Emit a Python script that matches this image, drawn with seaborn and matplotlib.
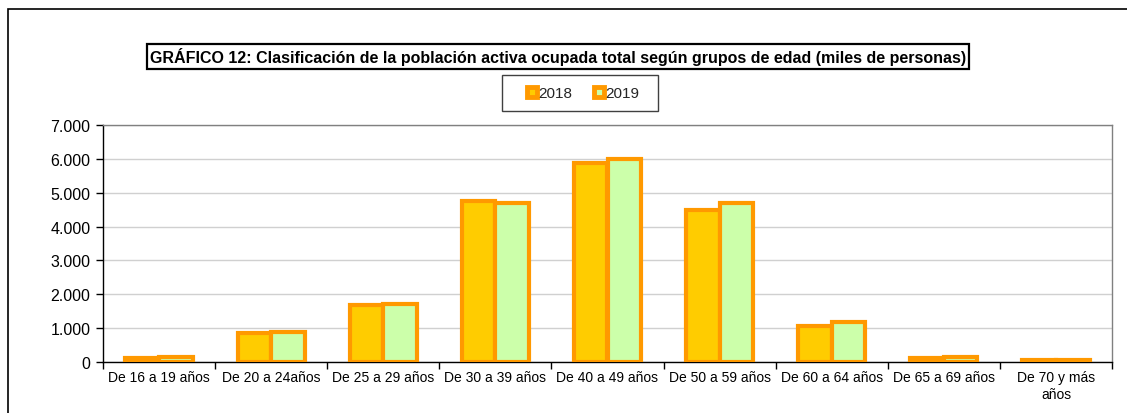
import matplotlib
matplotlib.use("Agg")
import matplotlib.pyplot as plt
import matplotlib.patches as mpatches
from matplotlib.lines import Line2D
from matplotlib.ticker import FuncFormatter, FixedLocator
import seaborn as sns
import pandas as pd

categorias = ["De 16 a 19 años", "De 20 a 24años", "De 25 a 29 años", "De 30 a 39 años",
              "De 40 a 49 años", "De 50 a 59 años", "De 60 a 64 años", "De 65 a 69 años",
              "De 70 y más\naños"]
valores_2018 = [130, 850, 1670, 4760, 5880, 4500, 1070, 120, 50]
valores_2019 = [140, 880, 1700, 4700, 6000, 4700, 1170, 150, 50]
series = ["2018", "2019"]
titulo = "GRÁFICO 12: Clasificación de la población activa ocupada total según grupos de edad (miles de personas)"

colores = ["#FFCC00", "#CCFFAA"]
borde = "#FF9900"

df = pd.DataFrame({
    "grupo": categorias * 2,
    "valor": valores_2018 + valores_2019,
    "año": [series[0]] * len(categorias) + [series[1]] * len(categorias),
})

sns.set_theme(style="white")
plt.rcParams["font.family"] = ["Liberation Sans", "DejaVu Sans"]

W, H = 1127, 414
fig = plt.figure(figsize=(W / 100, H / 100), dpi=100)
ax = fig.add_axes([103 / W, 1 - 363 / H, (1112 - 103) / W, (363 - 126) / H])

sns.barplot(data=df, x="grupo", y="valor", hue="año", palette=colores, saturation=1,
            edgecolor=borde, linewidth=3, width=0.6, ax=ax, legend=False, zorder=3)

ax.set_ylim(0, 7000)
ax.set_xlim(-0.5, len(categorias) - 0.5)
ax.set_yticks(range(0, 7001, 1000))
ax.yaxis.set_major_formatter(FuncFormatter(lambda v, p: f"{int(v):,}".replace(",", ".")))
ax.grid(axis="y", color="#D0D0D0", linewidth=1, zorder=0)
ax.set_axisbelow(True)
ax.set_xlabel("")
ax.set_ylabel("")

# category ticks between groups
ax.xaxis.set_major_locator(FixedLocator([i - 0.5 for i in range(len(categorias) + 1)]))
ax.xaxis.set_major_formatter(FuncFormatter(lambda v, p: ""))
ax.set_xticks(list(range(len(categorias))), labels=categorias, minor=True)
ax.tick_params(axis="x", which="major", length=5, width=1, color="black", direction="out", bottom=True)
ax.tick_params(axis="x", which="minor", length=0, labelsize=10, pad=6, colors="black")
for lab in ax.get_xticklabels(minor=True):
    lab.set_ha("center")
    lab.set_multialignment("center")
ax.tick_params(axis="y", length=5, width=1, color="black", direction="out", left=True,
               labelsize=11.5, pad=4, labelcolor="black")

for side in ["left", "bottom"]:
    ax.spines[side].set_color("black")
    ax.spines[side].set_linewidth(1)
for side in ["top", "right"]:
    ax.spines[side].set_visible(True)
    ax.spines[side].set_color("#808080")
    ax.spines[side].set_linewidth(1)

# outer chart border
fig.patches.append(mpatches.Rectangle((8 / W, -0.1), 1.2, (1 - 10 / H) + 0.1,
                                      transform=fig.transFigure, fill=False,
                                      edgecolor="black", linewidth=1.2))

# title
fig.text(558 / W, 1 - 57.5 / H, titulo, ha="center", va="center", fontsize=11.5,
         fontweight="bold", color="black",
         bbox=dict(boxstyle="square,pad=0.2", facecolor="white", edgecolor="black", linewidth=1.6))

# legend frame
fig.patches.append(mpatches.Rectangle((502 / W, 1 - 112 / H), (658 - 502) / W, 36 / H,
                                      transform=fig.transFigure, facecolor="white",
                                      edgecolor="#404040", linewidth=1))

# legend
handles = [Line2D([], [], linestyle="none", marker="s", markersize=7, markerfacecolor=c,
                  markeredgecolor=borde, markeredgewidth=3.5) for c in colores]
leg = fig.legend(handles, series, loc="center", bbox_to_anchor=(583 / W, 1 - 94 / H),
                 ncol=2, frameon=False, fontsize=11, handlelength=0.7,
                 handletextpad=0.05, columnspacing=1.4,
                 borderpad=0.8, borderaxespad=0)

fig.savefig("out.png", dpi=100)
